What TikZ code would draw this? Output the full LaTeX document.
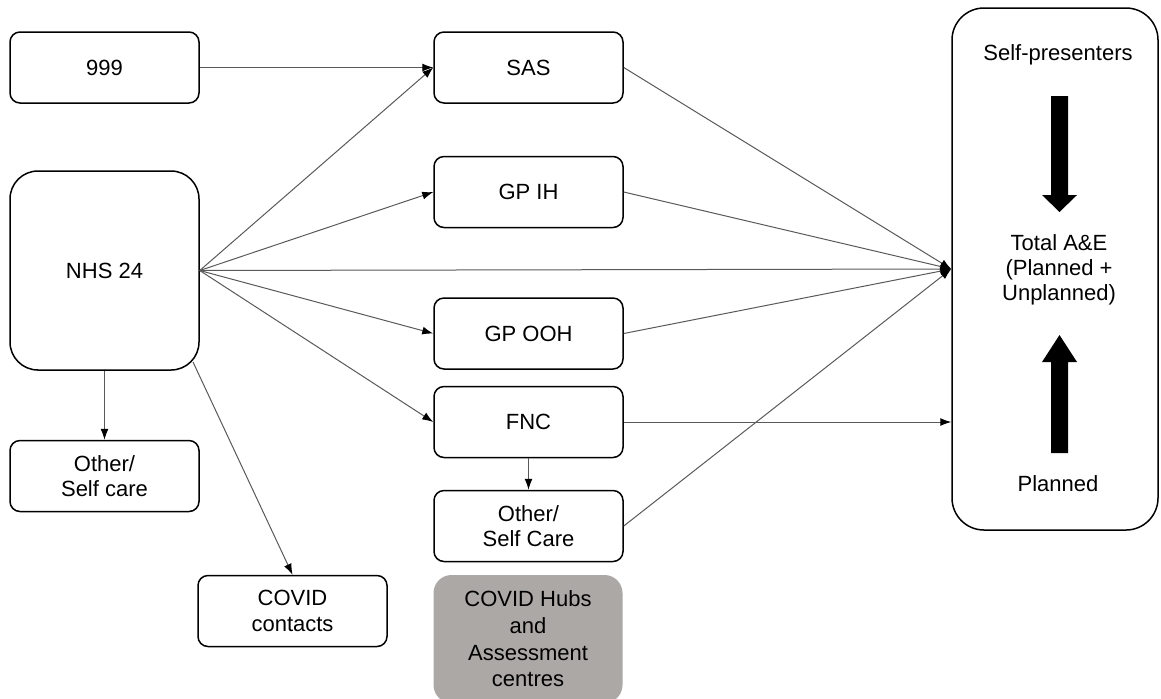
\documentclass[tikz,border=0pt]{standalone}
\usepackage{fontspec}
\setmainfont{Liberation Sans}
\usetikzlibrary{arrows.meta}
\definecolor{hubgrey}{RGB}{171,168,166}
\tikzset{
  stage/.style={draw, line width=0.75pt, rounded corners=5pt, align=center,
    minimum width=94.5pt, minimum height=35.5pt, inner sep=0pt,
    font=\fontsize{11pt}{12.6pt}\selectfont},
  flow/.style={draw=black!65, line width=0.5pt, ->},
  label text/.style={align=center, inner sep=0pt, font=\fontsize{11pt}{12.6pt}\selectfont}
}
\begin{document}
\begin{tikzpicture}[x=0.5pt, y=-0.5pt, >={Latex[length=5.5pt,width=4pt,color=black]}]
\useasboundingbox (0,0) rectangle (1161,698);
\node[stage] (n999) at (104.5,67.5) {999};
\node[stage, minimum height=99.5pt, rounded corners=14pt] (nhs) at (104.5,270.5) {NHS 24};
\node[stage] (self) at (104.5,476) {Other/\\Self care};
\node[stage] (covc) at (292.5,611) {COVID\\contacts};
\node[stage] (sas) at (528.5,67.5) {SAS};
\node[stage] (gpih) at (528.5,192) {GP IH};
\node[stage] (gpooh) at (528.5,333.5) {GP OOH};
\node[stage] (fnc) at (528.5,422) {FNC};
\node[stage] (osc) at (528.5,526) {Other/\\Self Care};
\node[stage, draw=none, fill=hubgrey, minimum height=64pt, rounded corners=9pt,
  font=\fontsize{11pt}{13.3pt}\selectfont] (hubs) at (528,639) {COVID Hubs\\and\\Assessment\\centres};
\node[stage, minimum width=103pt, minimum height=261pt, rounded corners=16pt] (ae) at (1055,269) {};
\node[label text] (selfp) at (1058,55) {Self-presenters};
\node[label text] (total) at (1059,270) {Total A\&E\\(Planned +\\Unplanned)};
\node[label text] (plan) at (1058,484) {Planned};
\coordinate (nhsC) at (193,362);

% block arrows inside A&E
\fill (1051,96) -- (1068,96) -- (1068,195) -- (1077,195) -- (1059.5,212)
  -- (1042,195) -- (1051,195) -- cycle;
\fill (1051,453) -- (1068,453) -- (1068,362) -- (1077,362) -- (1059.5,335)
  -- (1042,362) -- (1051,362) -- cycle;

\path[flow] (n999) -- (sas);
\path[flow] (nhs.east) -- (sas.west);
\path[flow] (nhs.east) -- (gpih.west);
\path[flow] (nhs.east) -- (gpooh.west);
\path[flow] (nhs.east) -- (fnc.west);
\path[flow] (nhs.south) -- (self.north);
\path[flow] (nhsC) -- (covc.north);
\path[flow] (fnc.south) -- (osc.north);

\path[flow] (nhs.east) -- (ae.west);
\path[flow] (sas.east) -- (ae.west);
\path[flow] (gpih.east) -- (ae.west);
\path[flow] (gpooh.east) -- (ae.west);
\path[flow] (osc.east) -- (ae.west);
\path[flow] (fnc.east) -- (fnc.east -| ae.west);
\end{tikzpicture}
\end{document}
